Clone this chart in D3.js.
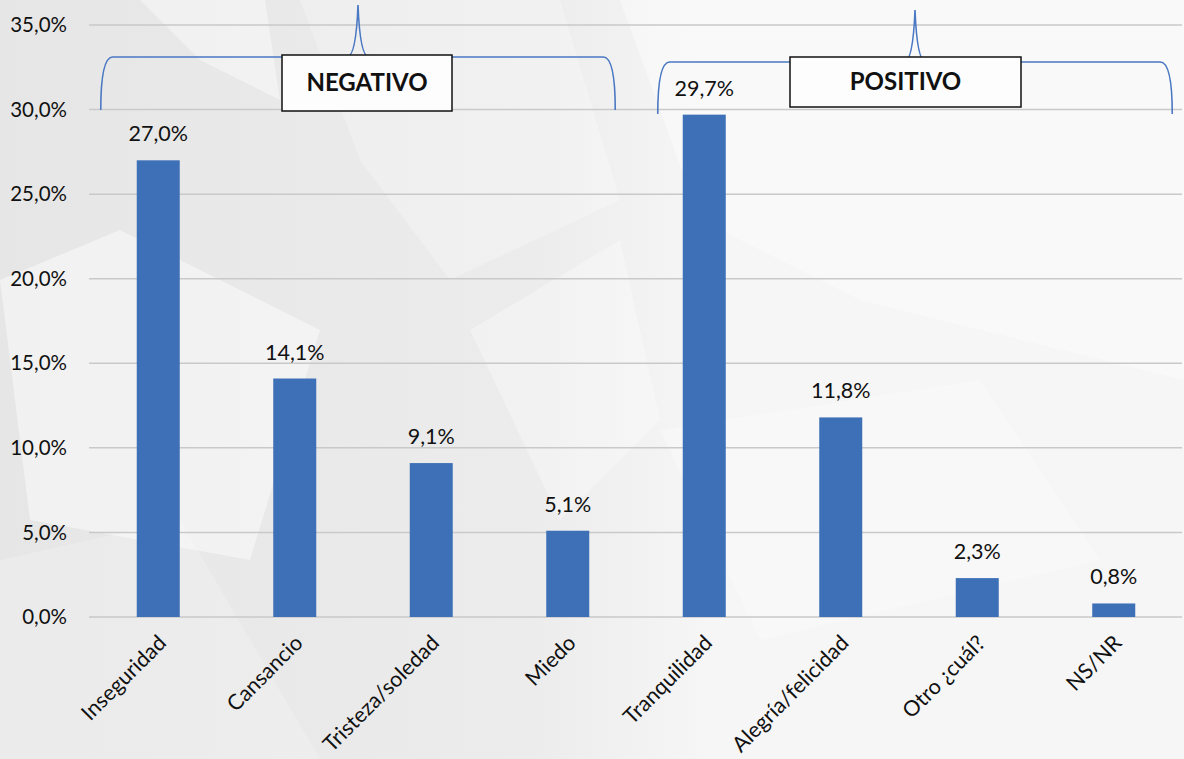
<!DOCTYPE html>
<html>
<head>
<meta charset="utf-8">
<script src="https://cdn.jsdelivr.net/npm/d3@7.9.0/dist/d3.min.js"></script>
<style>
  body { margin: 0; background: #fff; }
  svg { display: block; font-family: Lato, "Open Sans", sans-serif; }
</style>
</head>
<body>
<svg id="chart" width="1184" height="759"></svg>
<script>
const categories = ['Inseguridad', 'Cansancio', 'Tristeza/soledad', 'Miedo',
  'Tranquilidad', 'Alegría/felicidad', 'Otro ¿cuál?', 'NS/NR'];
const values = [27.0, 14.1, 9.1, 5.1, 29.7, 11.8, 2.3, 0.8];
const yTicks = [0, 5, 10, 15, 20, 25, 30, 35];
const groups = [
  { label: 'NEGATIVO', from: 'Inseguridad', to: 'Miedo' },
  { label: 'POSITIVO', from: 'Tranquilidad', to: 'NS/NR' }
];

const svg = d3.select('#chart');
const width = 1184, height = 759;
const margin = { top: 25, right: 2, bottom: 142, left: 90 };

// background with soft facets
const defs = svg.append('defs');
const grad = defs.append('linearGradient').attr('id', 'bg').attr('x1', 0).attr('x2', 1).attr('y1', 0).attr('y2', 0);
grad.append('stop').attr('offset', '0%').attr('stop-color', '#e6e6e6');
grad.append('stop').attr('offset', '45%').attr('stop-color', '#ececec');
grad.append('stop').attr('offset', '60%').attr('stop-color', '#f6f6f6');
grad.append('stop').attr('offset', '100%').attr('stop-color', '#f6f6f6');
svg.append('rect').attr('width', width).attr('height', height).attr('fill', 'url(#bg)');

const facets = [
  [[140, 0], [265, 0], [280, 100], [200, 60]],
  [[0, 280], [120, 230], [320, 330], [250, 560], [30, 520]],
  [[300, 0], [560, 0], [620, 200], [450, 280], [360, 160]],
  [[470, 330], [620, 240], [660, 420], [560, 520]],
  [[0, 560], [180, 520], [320, 759], [0, 759]],
  [[620, 0], [1184, 0], [1184, 380], [860, 300], [700, 220]],
  [[660, 430], [980, 380], [1100, 560], [760, 640]]
];
svg.append('g').selectAll('polygon')
  .data(facets)
  .join('polygon')
  .attr('points', (d) => d.map((p) => p.join(',')).join(' '))
  .attr('fill', '#ffffff')
  .attr('opacity', (d, i) => [0.4, 0.45, 0.25, 0.3, 0.2, 0.4, 0.25][i]);

const x = d3.scaleBand()
  .domain(categories)
  .range([margin.left, width - margin.right])
  .paddingInner(0.685)
  .paddingOuter(0.3425);

const y = d3.scaleLinear()
  .domain([0, 35])
  .range([height - margin.bottom, margin.top]);

// gridlines
svg.append('g')
  .selectAll('line')
  .data(yTicks)
  .join('line')
  .attr('x1', margin.left - 1)
  .attr('x2', width - margin.right)
  .attr('y1', (d) => y(d))
  .attr('y2', (d) => y(d))
  .attr('stroke', '#c9c9c9')
  .attr('stroke-width', 1.5);

// y labels
svg.append('g')
  .selectAll('text')
  .data(yTicks)
  .join('text')
  .attr('x', 67)
  .attr('y', (d) => y(d))
  .attr('dy', '0.35em')
  .attr('text-anchor', 'end')
  .attr('font-size', 20.5)
  .attr('fill', '#111')
  .text((d) => d.toFixed(1).replace('.', ',') + '%');

// bars
svg.append('g')
  .selectAll('rect')
  .data(values)
  .join('rect')
  .attr('x', (d, i) => x(categories[i]))
  .attr('y', (d) => y(d))
  .attr('width', x.bandwidth())
  .attr('height', (d) => y(0) - y(d))
  .attr('fill', '#3d70b7');

// value labels
svg.append('g')
  .selectAll('text')
  .data(values)
  .join('text')
  .attr('x', (d, i) => x(categories[i]) + x.bandwidth() / 2)
  .attr('y', (d) => y(d) - 19)
  .attr('text-anchor', 'middle')
  .attr('font-size', 21.5)
  .attr('fill', '#111')
  .text((d) => d.toFixed(1).replace('.', ',') + '%');

// category labels
svg.append('g')
  .selectAll('text')
  .data(categories)
  .join('text')
  .attr('transform', (d) => `translate(${x(d) + x.bandwidth() / 2 + 4},${y(0) + 22}) rotate(-45)`)
  .attr('text-anchor', 'end')
  .attr('dy', '0.35em')
  .attr('font-size', 21.5)
  .attr('fill', '#111')
  .text((d) => d);

// group braces
const braceTops = [57, 62];
const braceBottoms = [110, 114];
const peaks = [5, 10];
const padL = [36, 25];
const padR = [26, 37];
const boxes = [
  { x0: 282, x1: 452, y0: 55, y1: 111 },
  { x0: 790, x1: 1021, y0: 57, y1: 107 }
];
groups.forEach((g, i) => {
  const l = x(g.from) - padL[i];
  const r = x(g.to) + x.bandwidth() + padR[i];
  const m = (l + r) / 2;
  const t = braceTops[i], b = braceBottoms[i], p = peaks[i];
  const path = `M${l},${b} Q${l},${t} ${l + 12},${t} L${m - 11},${t} Q${m - 2},${t} ${m},${p} ` +
    `Q${m + 2},${t} ${m + 11},${t} L${r - 12},${t} Q${r},${t} ${r},${b}`;
  svg.append('path')
    .attr('d', path)
    .attr('fill', 'none')
    .attr('stroke', '#4a78c2')
    .attr('stroke-width', 1.6);

  const bx = boxes[i];
  svg.append('rect')
    .attr('x', bx.x0).attr('y', bx.y0)
    .attr('width', bx.x1 - bx.x0).attr('height', bx.y1 - bx.y0)
    .attr('fill', '#fdfdfd')
    .attr('stroke', '#111')
    .attr('stroke-width', 1.5);
  svg.append('text')
    .attr('x', (bx.x0 + bx.x1) / 2)
    .attr('y', (bx.y0 + bx.y1) / 2)
    .attr('dy', '0.35em')
    .attr('text-anchor', 'middle')
    .attr('font-size', 24)
    .attr('font-weight', 'bold')
    .attr('fill', '#111')
    .text(g.label);
});
</script>
</body>
</html>
